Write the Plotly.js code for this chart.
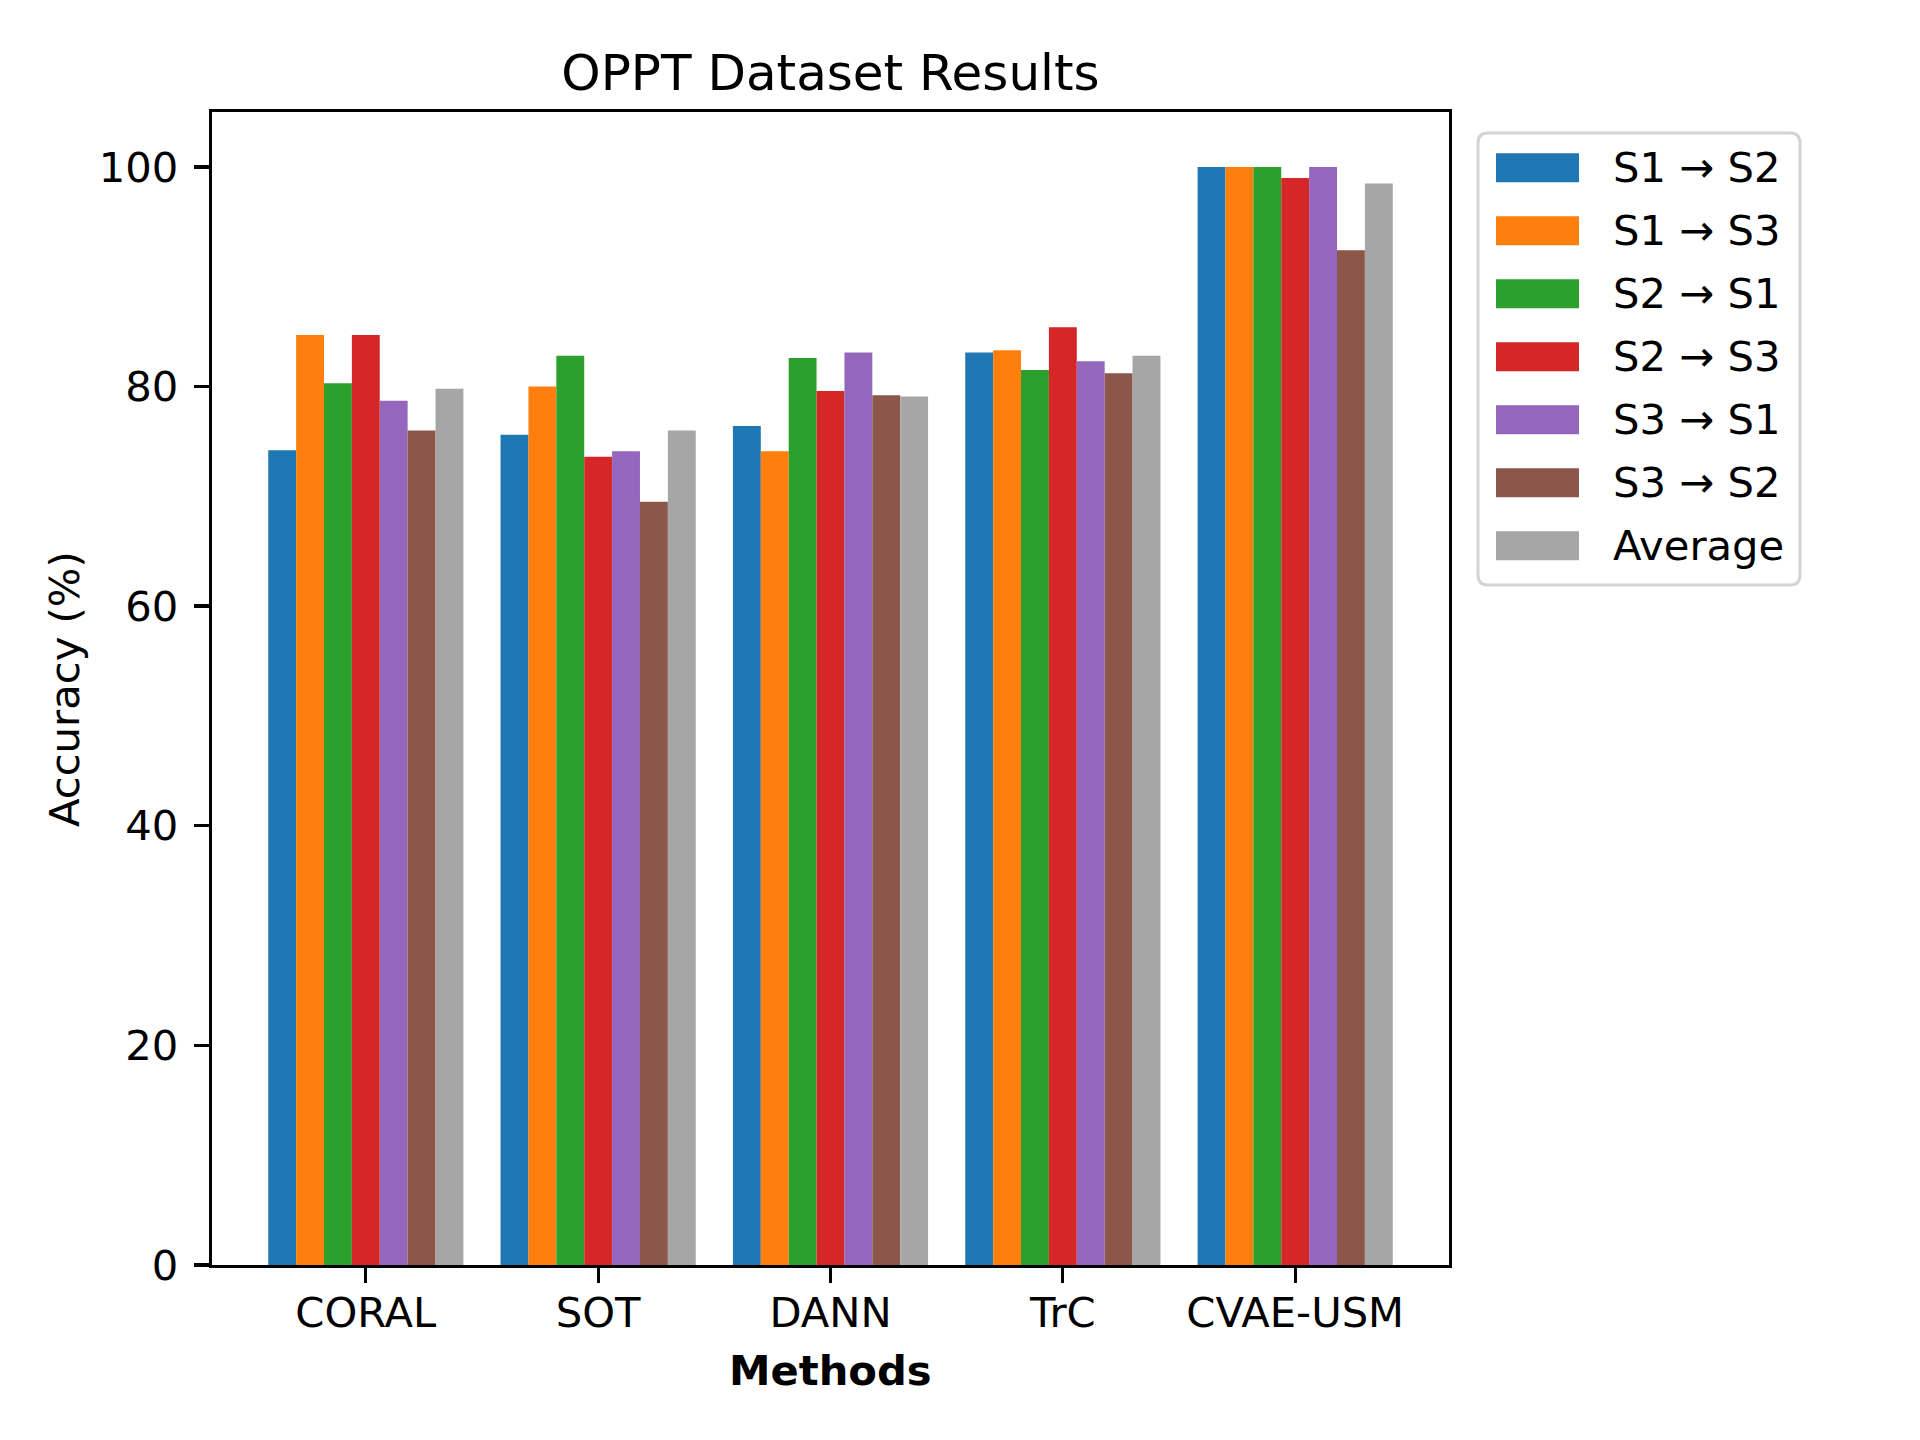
<!DOCTYPE html>
<html>
<head>
<meta charset="utf-8">
<script src="https://cdn.plot.ly/plotly-3.0.1.min.js"></script>
<style>
	body { margin: 0; background: #fff; }
	#chart { width: 1920px; height: 1440px; }
</style>
</head>
<body>
<div id="chart"></div>
<script>
// methods on the x axis
var methods = ["CORAL", "SOT", "DANN", "TrC", "CVAE-USM"];

// accuracy (%) per transfer direction
var s1s2 = [74.2, 75.6, 76.4, 83.1, 100.0];
var s1s3 = [84.7, 80.0, 74.1, 83.3, 100.0];
var s2s1 = [80.3, 82.8, 82.6, 81.5, 100.0];
var s2s3 = [84.7, 73.6, 79.6, 85.4, 99.0];
var s3s1 = [78.7, 74.1, 83.1, 82.3, 100.0];
var s3s2 = [76.0, 69.5, 79.2, 81.2, 92.4];
var average = [79.8, 76.0, 79.1, 82.8, 98.5];

var seriesNames = ["S1 \u2192 S2", "S1 \u2192 S3", "S2 \u2192 S1", "S2 \u2192 S3", "S3 \u2192 S1", "S3 \u2192 S2", "Average"];
var seriesValues = [s1s2, s1s3, s2s1, s2s3, s3s1, s3s2, average];
var seriesColours = ["#1f77b4", "#ff7f0e", "#2ca02c", "#d62728", "#9467bd", "#8c564b", "#a6a6a6"];

var font = "DejaVu Sans, sans-serif";
var fs = 41.7;

// plot area in pixels
var plotLeft = 212, plotRight = 1449, plotTop = 112, plotBottom = 1265;
function px(x) { return (x - plotLeft) / (plotRight - plotLeft); }
function py(y) { return (plotBottom - y) / (plotBottom - plotTop); }

var traces = [];
for (var i = 0; i < seriesNames.length; i++) {
	traces.push({
		type: "bar",
		name: seriesNames[i],
		x: methods,
		y: seriesValues[i],
		marker: {color: seriesColours[i], line: {width: 0}},
		showlegend: false,
		hoverinfo: "x+y+name"
	});
}

// hand made legend, matplotlib style
var shapes = [];
var annotations = [];
var lx0 = 1478, lx1 = 1800, ly0 = 133, ly1 = 585, r = 10;
var path = "M" + (lx0 + r) + "," + ly0 + " L" + (lx1 - r) + "," + ly0 +
	" Q" + lx1 + "," + ly0 + " " + lx1 + "," + (ly0 + r) +
	" L" + lx1 + "," + (ly1 - r) +
	" Q" + lx1 + "," + ly1 + " " + (lx1 - r) + "," + ly1 +
	" L" + (lx0 + r) + "," + ly1 +
	" Q" + lx0 + "," + ly1 + " " + lx0 + "," + (ly1 - r) +
	" L" + lx0 + "," + (ly0 + r) +
	" Q" + lx0 + "," + ly0 + " " + (lx0 + r) + "," + ly0 + " Z";
shapes.push({
	type: "path", xref: "paper", yref: "paper",
	path: path.replace(/(-?\d+(\.\d+)?),(-?\d+(\.\d+)?)/g, function(m, a, b, c) {
		return px(parseFloat(a)) + "," + py(parseFloat(c));
	}),
	line: {color: "#d4d4d4", width: 3}, fillcolor: "rgba(255,255,255,0.8)"
});
for (var k = 0; k < seriesNames.length; k++) {
	var cy = 167.7 + k * 63;
	shapes.push({
		type: "rect", xref: "paper", yref: "paper",
		x0: px(1496), x1: px(1579), y0: py(cy - 14.5), y1: py(cy + 14.5),
		line: {width: 0}, fillcolor: seriesColours[k]
	});
	annotations.push({
		xref: "paper", yref: "paper", x: px(1611), y: py(cy),
		xanchor: "left", yanchor: "middle", showarrow: false,
		text: seriesNames[k], font: {family: font, size: fs, color: "#000"}
	});
}

// axis titles
annotations.push({
	xref: "paper", yref: "paper", x: px(64), y: py(689),
	xanchor: "center", yanchor: "middle", showarrow: false, textangle: -90,
	text: "Accuracy (%)", font: {family: font, size: fs, color: "#000"}
});
annotations.push({
	xref: "paper", yref: "paper", x: px(830), y: py(1370),
	xanchor: "center", yanchor: "middle", showarrow: false,
	text: "<b>Methods</b>", font: {family: font, size: fs, color: "#000"}
});

var layout = {
	width: 1920,
	height: 1440,
	margin: {l: plotLeft, r: 1920 - plotRight, t: plotTop, b: 1440 - plotBottom, pad: 0},
	paper_bgcolor: "#fff",
	plot_bgcolor: "#fff",
	font: {family: font, size: fs, color: "#000"},
	title: {
		text: "OPPT Dataset Results",
		font: {family: font, size: 50, color: "#000"},
		xref: "paper", x: 0.5, xanchor: "center",
		y: 1 - 72.6 / 1440, yanchor: "middle"
	},
	barmode: "group",
	bargap: 0.16,
	bargroupgap: 0,
	xaxis: {
		type: "category",
		range: [-0.662, 4.662],
		showgrid: false, zeroline: false,
		showline: true, mirror: true, linecolor: "#000", linewidth: 3.3,
		ticks: "outside", ticklen: 15, tickwidth: 3.3, tickcolor: "#000",
		ticklabelstandoff: -6,
		tickfont: {family: font, size: fs, color: "#000"}
	},
	yaxis: {
		range: [0, 105],
		tickvals: [0, 20, 40, 60, 80, 100],
		showgrid: false, zeroline: false,
		showline: true, mirror: true, linecolor: "#000", linewidth: 3.3,
		ticks: "outside", ticklen: 15, tickwidth: 3.3, tickcolor: "#000",
		ticklabelstandoff: 7,
		tickfont: {family: font, size: fs, color: "#000"}
	},
	shapes: shapes,
	annotations: annotations
};

Plotly.newPlot("chart", traces, layout, {displayModeBar: false, staticPlot: true});
</script>
</body>
</html>
